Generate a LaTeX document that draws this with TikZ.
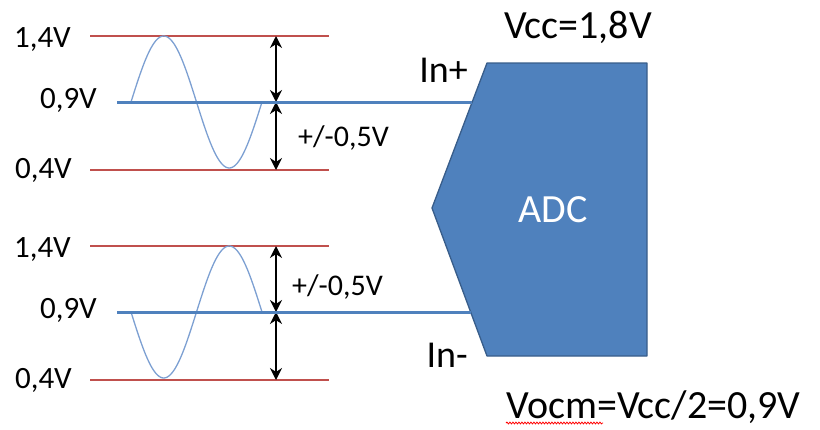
\documentclass[tikz,border=0pt]{standalone}
\usepackage{fontspec}
\setmainfont{Carlito}
\usepackage{tikz}
\usetikzlibrary{arrows.meta,decorations.pathmorphing}
\definecolor{adcblue}{RGB}{79,129,189}
\definecolor{adcedge}{RGB}{56,93,138}
\definecolor{levelred}{RGB}{192,80,77}
\definecolor{wavecol}{RGB}{125,160,210}
\newcommand{\fsz}[1]{\fontsize{#1}{#1}\selectfont}
\newcommand{\drawlevel}{\draw[levelred, line width=1.3pt]}
\newcommand{\drawsignal}{\draw[adcblue, line width=3pt]}
\tikzset{
  volt/.style={anchor=base east, inner sep=0pt, font=\fsz{31}},
  span/.style={{Stealth[length=12pt,width=12pt]}-{Stealth[length=12pt,width=12pt]}, line width=1.6pt},
  wave/.style={wavecol, line width=1.3pt, domain=0:131, samples=80, smooth}
}
% one input: levels, labels, sine and the two spans (#1 = name, #2 = sign of the sine)
\newcommand{\levelset}[2]{
  \drawlevel (90,36) -- (329,36);
  \drawlevel (90,170) -- (329,170);
  \node[volt] (#1hi) at (71,47) {1,4V};
  \node[volt] (#1mid) at (97,108) {0,9V};
  \node[volt] (#1lo) at (72,178) {0,4V};
  \draw[wave] plot ({131+\x},{102+#2*66*sin(\x*2.748)});
  \coordinate (#1top) at (276,36);
  \coordinate (#1cm) at (276,102);
  \coordinate (#1bot) at (276,170);
  \coordinate (#1start) at (117,102);
  \draw[span] (#1top) -- (#1cm);
  \draw[span] (#1cm) -- (#1bot);
}

\begin{document}
\begin{tikzpicture}[x=1pt,y=-1pt]
\useasboundingbox (0,0) rectangle (820,429);
\begin{scope}
  \levelset{p}{-1}
\end{scope}
\begin{scope}[shift={(0,210)}]
  \levelset{n}{1}
\end{scope}
\node[anchor=base west, inner sep=0pt, font=\fsz{30}] (pswing) at (298,146) {+/-0,5V};
\node[anchor=base west, inner sep=0pt, font=\fsz{30}] (nswing) at (292,295) {+/-0,5V};
% ADC block
\draw[fill=adcblue, draw=adcedge, line width=1.3pt, line join=round]
  (487,63) coordinate (adctl) -- (647,63) -- (647,356) -- (487,356) coordinate (adcbl)
  -- (432,208) coordinate (adctip) -- cycle;
\node[anchor=base, inner sep=0pt, font=\fsz{40}, text=white] (adc) at (553,222) {ADC};
\coordinate (inp) at (472,102);
\coordinate (inn) at (470.6,312);
\drawsignal (pstart) -- (inp);
\drawsignal (nstart) -- (inn);
\node[anchor=base east, inner sep=0pt, font=\fsz{38}] (inplus) at (468,82) {In+};
\node[anchor=base east, inner sep=0pt, font=\fsz{38}] (inminus) at (468,367) {In-};
\node[anchor=base west, inner sep=0pt, font=\fsz{40}] (vcc) at (504,38) {Vcc=1,8V};
\node[anchor=base west, inner sep=0pt, font=\fsz{40}] (vocm) at (506,418) {Vocm=Vcc/2=0,9V};
\draw[red, line width=0.8pt, decorate, decoration={snake, amplitude=0.9pt, segment length=3pt}]
  (vocm.base west) ++(0,5) -- ++(97,0);
\end{tikzpicture}
\end{document}
